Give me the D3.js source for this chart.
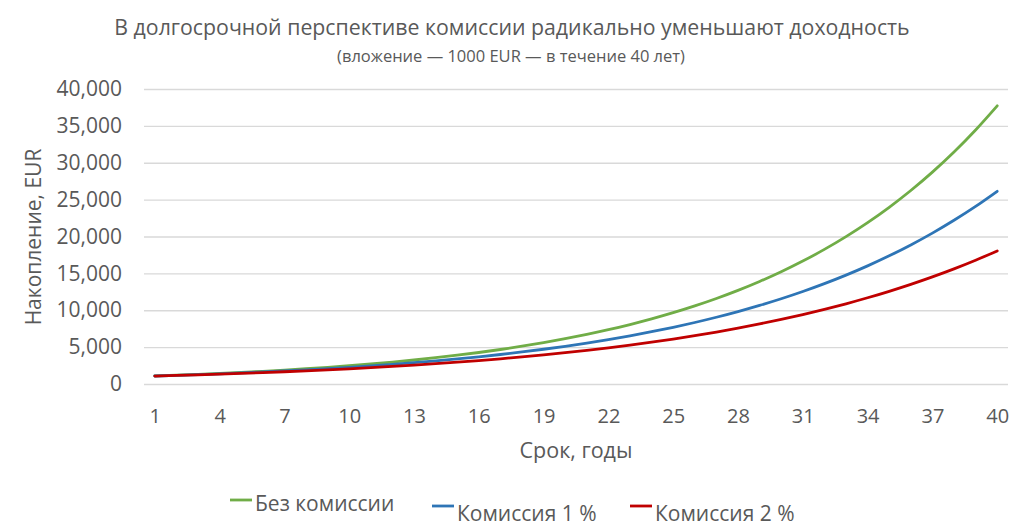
<!DOCTYPE html>
<html>
<head>
<meta charset="utf-8">
<script src="https://d3js.org/d3.v7.min.js"></script>
<style>
body { margin: 0; background: #fff; }
text { font-family: "Open Sans", "Noto Sans", sans-serif; fill: #595959; }
.grid line { stroke: #d9d9d9; stroke-width: 1.3; }
</style>
</head>
<body>
<svg id="chart" width="1024" height="532"></svg>
<script>
// years 1..40
var years = d3.range(1, 41);

// values, EUR
var noFee = [1095, 1199, 1313, 1438, 1574, 1724, 1888, 2067, 2263, 2478,
  2714, 2971, 3254, 3563, 3901, 4272, 4678, 5122, 5609, 6142,
  6725, 7364, 8064, 8830, 9668, 10587, 11593, 12694, 13900, 15220,
  16666, 18250, 19983, 21881, 23960, 26237, 28729, 31458, 34447, 37719];
var fee1 = [1085, 1177, 1277, 1386, 1504, 1631, 1770, 1921, 2084, 2261,
  2453, 2662, 2888, 3133, 3400, 3689, 4002, 4342, 4712, 5112,
  5547, 6018, 6530, 7085, 7687, 8340, 9049, 9818, 10653, 11558,
  12541, 13607, 14763, 16018, 17380, 18857, 20460, 22199, 24086, 26133];
var fee2 = [1075, 1156, 1242, 1335, 1436, 1543, 1659, 1783, 1917, 2061,
  2216, 2382, 2560, 2752, 2959, 3181, 3419, 3676, 3951, 4248,
  4566, 4909, 5277, 5673, 6098, 6556, 7047, 7576, 8144, 8755,
  9412, 10117, 10876, 11692, 12569, 13511, 14525, 15614, 16785, 18044];

var seriesNames = ["Без комиссии", "Комиссия 1 %", "Комиссия 2 %"];
var seriesColors = ["#70ad47", "#2e75b6", "#c00000"];
var yTicks = [0, 5000, 10000, 15000, 20000, 25000, 30000, 35000, 40000];
var xTicks = [1, 4, 7, 10, 13, 16, 19, 22, 25, 28, 31, 34, 37, 40];

var svg = d3.select("#chart");
var plotL = 144, plotR = 1008, plotT = 89, plotB = 384;

var x = d3.scalePoint().domain(years).range([plotL, plotR]).padding(0.5);
var y = d3.scaleLinear().domain([0, 40000]).range([plotB, plotT]);

// gridlines
svg.append("g").attr("class", "grid")
  .attr("transform", "translate(" + plotL + ",0)")
  .call(d3.axisLeft(y).tickValues(yTicks).tickSize(-(plotR - plotL)).tickFormat(""))
  .call(function(g) { g.select(".domain").remove(); });

// y labels
svg.append("g")
  .attr("transform", "translate(" + (plotL - 22) + ",0)")
  .call(d3.axisLeft(y).tickValues(yTicks).tickSize(0).tickFormat(d3.format(",")))
  .call(function(g) {
    g.select(".domain").remove();
    g.selectAll("text").style("font-size", "21px").attr("fill", "#595959").attr("x", 0);
  });

// x labels
svg.append("g")
  .attr("transform", "translate(0," + plotB + ")")
  .call(d3.axisBottom(x).tickValues(xTicks).tickSize(0))
  .call(function(g) {
    g.select(".domain").remove();
    g.selectAll("text").style("font-size", "20px").attr("fill", "#595959").attr("dy", "1.05em").attr("y", 18);
  });

var line = d3.line()
  .x(function(d, i) { return x(years[i]); })
  .y(function(d) { return y(d); })
  .curve(d3.curveMonotoneX);

[noFee, fee1, fee2].forEach(function(s, i) {
  svg.append("path")
    .datum(s)
    .attr("fill", "none")
    .attr("stroke", seriesColors[i])
    .attr("stroke-width", 2.8)
    .attr("stroke-linecap", "round")
    .attr("d", line);
});

// titles
svg.append("text").attr("x", 512).attr("y", 35).attr("text-anchor", "middle")
  .style("font-size", "21.3px").text("В долгосрочной перспективе комиссии радикально уменьшают доходность");
svg.append("text").attr("x", 511).attr("y", 62).attr("text-anchor", "middle")
  .style("font-size", "16.5px").text("(вложение — 1000 EUR — в течение 40 лет)");

svg.append("text").attr("x", 576).attr("y", 458).attr("text-anchor", "middle")
  .style("font-size", "21.5px").text("Срок, годы");

svg.append("text")
  .attr("transform", "translate(41,237) rotate(-90)")
  .attr("text-anchor", "middle")
  .style("font-size", "21px").text("Накопление, EUR");

// legend
var legendPos = [{x: 230, y: 500}, {x: 432, y: 506}, {x: 630, y: 506}];
var textDy = [4, 8, 8];
seriesNames.forEach(function(name, i) {
  var g = svg.append("g").attr("transform", "translate(" + legendPos[i].x + "," + legendPos[i].y + ")");
  g.append("line").attr("x1", 0).attr("x2", 22).attr("y1", 0).attr("y2", 0)
    .attr("stroke", seriesColors[i]).attr("stroke-width", 2.8);
  g.append("text").attr("x", 25).attr("y", textDy[i]).attr("dy", "0.35em")
    .style("font-size", "21px").text(name);
});
</script>
</body>
</html>
